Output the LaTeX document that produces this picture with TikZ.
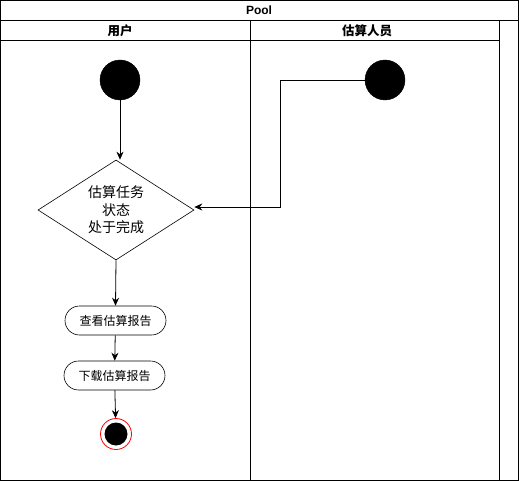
\documentclass[tikz,border=0pt]{standalone}
\usepackage{fontspec}
\setmainfont{Liberation Sans}
\newfontfamily\cjk{Noto Sans CJK SC}
\usetikzlibrary{shapes.geometric,shapes.misc,arrows.meta}
\begin{document}
\begin{tikzpicture}[x=1pt,y=-1pt,
  lane/.style={draw=black,line width=0.9pt},
  startnode/.style={circle,fill=black,draw=black,minimum size=40pt,inner sep=0pt},
  decision/.style={diamond,draw=black,line width=0.6pt,minimum width=156pt,minimum height=100pt,aspect=1.56,inner sep=0pt,font=\cjk\fontsize{14}{17.5}\selectfont,align=center},
  action/.style={rounded rectangle,draw=black,line width=0.6pt,minimum width=101pt,minimum height=29pt,inner sep=0pt,font=\cjk\fontsize{12}{14}\selectfont},
  flow/.style={draw=black,line width=0.8pt,-{Stealth[length=8pt,width=7pt]}},
  hdr/.style={font=\cjk\bfseries\fontsize{12.5}{14}\selectfont}
]
\useasboundingbox (0,0) rectangle (519,481);
\fill[white] (0,0) rectangle (519,481);
% pool frame
\draw[lane] (0.5,0.5) rectangle (518.5,480.5);
\draw[lane] (0.5,20.5) -- (518.5,20.5);
\draw[lane] (0.5,40.5) -- (499.5,40.5);
\draw[lane] (250.5,20.5) -- (250.5,480.5);
\draw[lane] (499.5,20.5) -- (499.5,480.5);
\node[font=\bfseries\fontsize{12}{14}\selectfont] (pool) at (259,10.5) {Pool};
\node[hdr] (h1) at (120,30.5) {用户};
\node[hdr] (h2) at (367,30.5) {估算人员};
% nodes
\node[startnode] (s1) at (120,80) {};
\node[startnode] (s2) at (385,80) {};
\node[decision] (d) at (116,210) {估算任务\\状态\\处于完成};
\node[action] (a1) at (115.5,320.5) {查看估算报告};
\node[action] (a2) at (114.5,375.5) {下载估算报告};
\node[circle,draw=red,line width=0.8pt,fill=white,minimum size=31pt,inner sep=0pt] (e) at (116,434) {};
\node[circle,fill=black,minimum size=23pt,inner sep=0pt] (ei) at (e.center) {};
% connectors
\draw[flow] (s1) -- (s1 |- d.north);
\draw[flow] (s2.west) -- (280,80) -- (280,207) -- (d.east |- 0,207);
\draw[flow] (d.south) -- (a1.north);
\draw[flow] (a1) -- (a2);
\draw[flow] (a2) -- (e);
\end{tikzpicture}
\end{document}
